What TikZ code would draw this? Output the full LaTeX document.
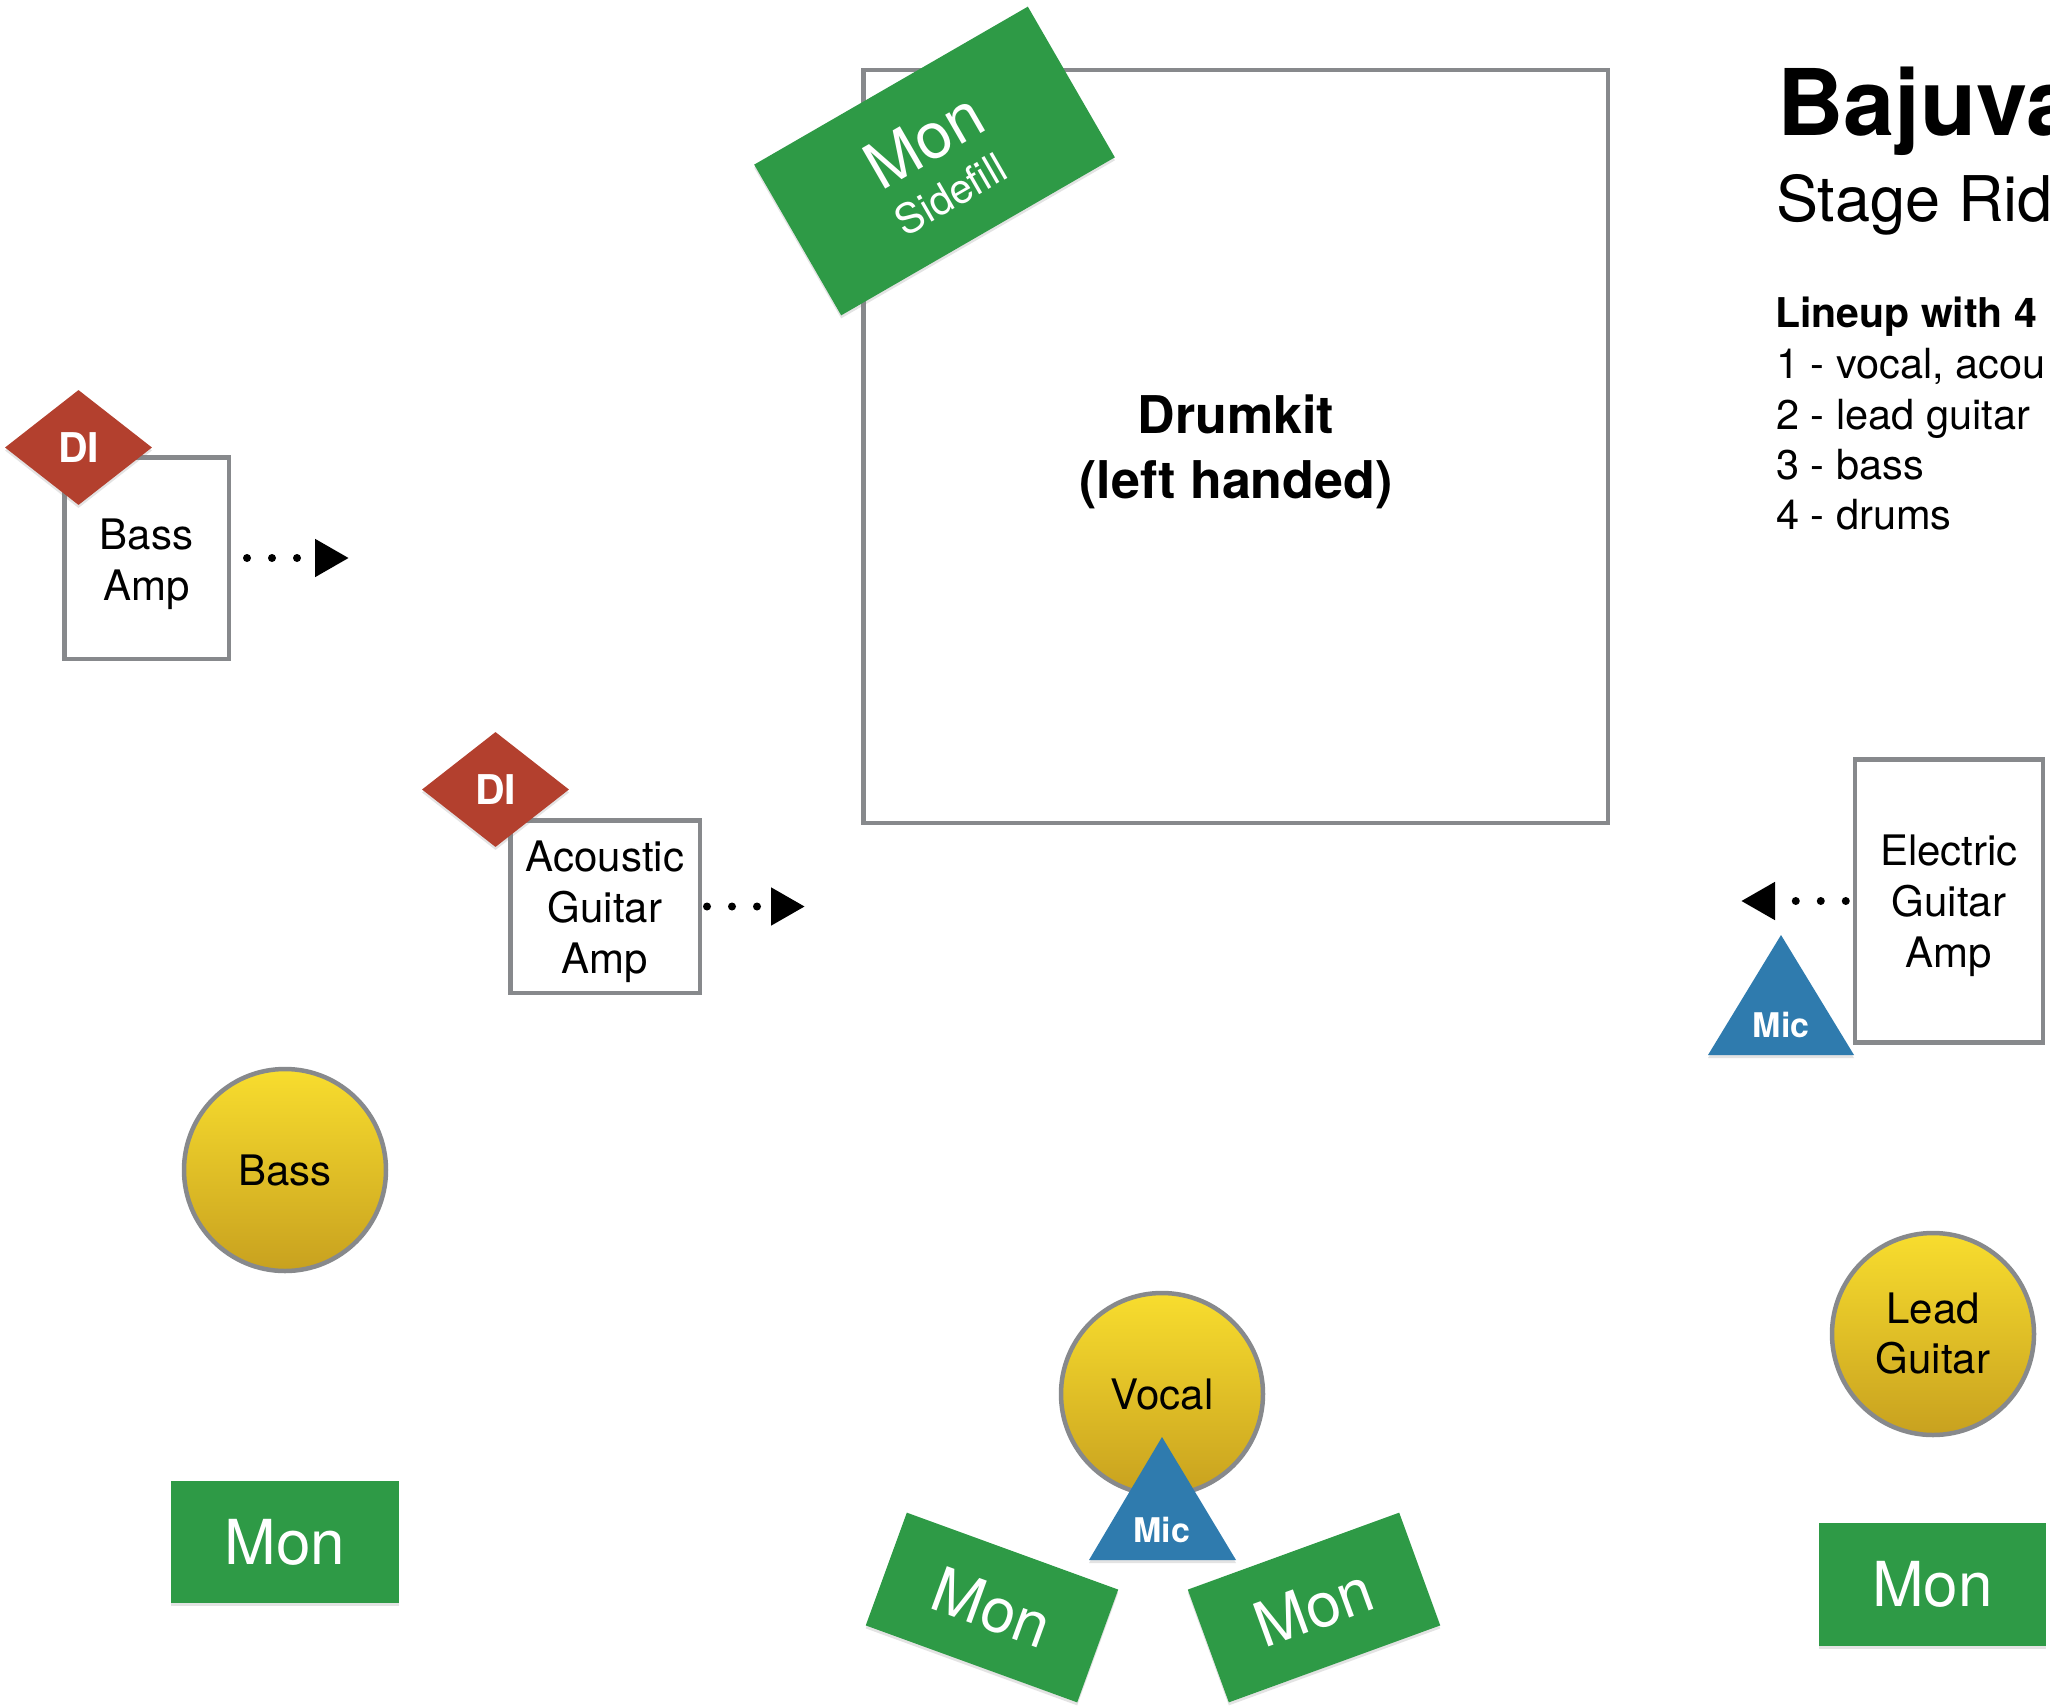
\documentclass[tikz,border=0pt]{standalone}
\usepackage{fontspec}
\setmainfont{TeX Gyre Heros}
\usetikzlibrary{shapes.geometric,arrows.meta,shadows}
\definecolor{mongreen}{HTML}{2E9A46}
\definecolor{dired}{HTML}{B3402E}
\definecolor{micblue}{HTML}{2F7BAE}
\definecolor{yeltop}{HTML}{F8DD2E}
\definecolor{yelbot}{HTML}{C8A11F}
\definecolor{bordergray}{HTML}{87898C}
\begin{document}
\begin{tikzpicture}[x=1pt,y=-1pt,
  softshadow/.style={drop shadow={shadow xshift=0pt,shadow yshift=-3pt,opacity=.22}},
  ampbox/.style={draw=bordergray,line width=4.5pt,fill=white,inner sep=0pt},
  amptext/.style={align=center,inner sep=0pt,font=\fontsize{42}{51}\selectfont},
  player/.style={circle,draw=bordergray,line width=4.5pt,top color=yeltop,bottom color=yelbot,
    inner sep=0pt,minimum size=202pt,align=center,font=\fontsize{42}{50}\selectfont},
  monbox/.style={fill=mongreen,text=white,inner sep=0pt,softshadow,font=\fontsize{62}{62}\selectfont},
  dibox/.style={diamond,fill=dired,text=white,inner sep=0pt,minimum width=147pt,minimum height=115pt,
    softshadow,font=\bfseries\fontsize{41}{41}\selectfont},
  mictext/.style={text=white,inner sep=0pt,font=\bfseries\fontsize{34}{34}\selectfont},
  signal/.style={line width=8pt,line cap=round,dash pattern=on 0pt off 25pt,
    -{Triangle[length=34pt,width=36pt]}},
  titletext/.style={anchor=base west,inner sep=0pt}
]
\useasboundingbox (0,0) rectangle (2050,1707);
\clip (0,0) rectangle (2050,1707);
\fill[white] (0,0) rectangle (2050,1707);

% Drumkit
\node[ampbox,minimum width=744.5pt,minimum height=752.5pt] (drum) at (1235.5,446.5) {};
\node[align=center,inner sep=0pt,font=\bfseries\fontsize{52}{65}\selectfont] (drumlabel) at (1236,452) {Drumkit\\(left handed)};

% Sidefill monitor
\node[monbox,rotate=30,minimum width=316pt,minimum height=174pt] (sidefill) at (934.5,161) {};
\node[rotate=30,anchor=base,inner sep=0pt,text=white,font=\fontsize{64}{64}\selectfont] (sidefillmon) at (935,160) {Mon};
\node[rotate=30,anchor=base,inner sep=0pt,text=white,font=\fontsize{41}{41}\selectfont] (sidefilltext) at (958,207) {Sidefill};

% Bass amp
\node[ampbox,minimum width=164.5pt,minimum height=201.5pt] (bassamp) at (146.5,558) {};
\node[amptext] (bassamplabel) at (146.5,564.5) {Bass\\Amp};
\node[dibox] (di1) at (78.5,447.5) {DI};
\coordinate (bassend) at (349,558);
\draw[signal,dash phase=9pt] (bassamp.east) -- (bassend);

% Acoustic guitar amp
\node[ampbox,minimum width=189.5pt,minimum height=172.5pt] (acamp) at (605,906.5) {};
\node[amptext] (acamplabel) at (605,911.5) {Acoustic\\Guitar\\Amp};
\node[dibox] (di2) at (495.5,789.5) {DI};
\coordinate (acend) at (805,906.5);
\draw[signal,dash phase=20pt] (acamp.east) -- (acend);

% Electric guitar amp
\node[ampbox,minimum width=188pt,minimum height=283pt] (elamp) at (1949,901) {};
\node[amptext] (elamplabel) at (1949,906) {Electric\\Guitar\\Amp};
\coordinate (elend) at (1741,901);
\draw[signal,dash phase=18pt] (elamp.west) -- (elend);
\fill[micblue,softshadow] (1781,935) -- (1708,1055) -- (1854,1055) -- cycle;
\node[mictext] (elmic) at (1781,1025) {Mic};

% Players
\node[player] (bass) at (285,1170) {Bass};
\node[player] (lead) at (1933,1334) {Lead\\Guitar};
\node[player] (vocal) at (1162,1394) {Vocal};
\fill[micblue,softshadow] (1162,1437) -- (1089,1560) -- (1236,1560) -- cycle;
\node[mictext] (vocalmic) at (1162,1530) {Mic};

% Monitors
\node[monbox,minimum width=228pt,minimum height=122pt] (bassmon) at (285,1542) {Mon};
\node[monbox,minimum width=227pt,minimum height=123pt] (leadmon) at (1932.5,1584.5) {Mon};
\node[monbox,rotate=-20,minimum width=225pt,minimum height=120pt] (vocmonl) at (992,1607.5) {Mon};
\node[monbox,rotate=20,minimum width=225pt,minimum height=120pt] (vocmonr) at (1314,1607.5) {Mon};

% Title block
\node[titletext,font=\bfseries\fontsize{92}{92}\selectfont] (title) at (1777,136) {Bajuva};
\node[titletext,font=\fontsize{63}{63}\selectfont] (subtitle) at (1776,222) {Stage Rid};
\node[titletext,font=\bfseries\fontsize{41}{41}\selectfont] (lineup) at (1775,327) {Lineup with 4};
\node[titletext,font=\fontsize{41.5}{41.5}\selectfont] (m1) at (1776,378) {1 - vocal, acou};
\node[titletext,font=\fontsize{41.5}{41.5}\selectfont] (m2) at (1776,429) {2 - lead guitar};
\node[titletext,font=\fontsize{41.5}{41.5}\selectfont] (m3) at (1776,479) {3 - bass};
\node[titletext,font=\fontsize{41.5}{41.5}\selectfont] (m4) at (1776,529) {4 - drums};
\end{tikzpicture}
\end{document}
